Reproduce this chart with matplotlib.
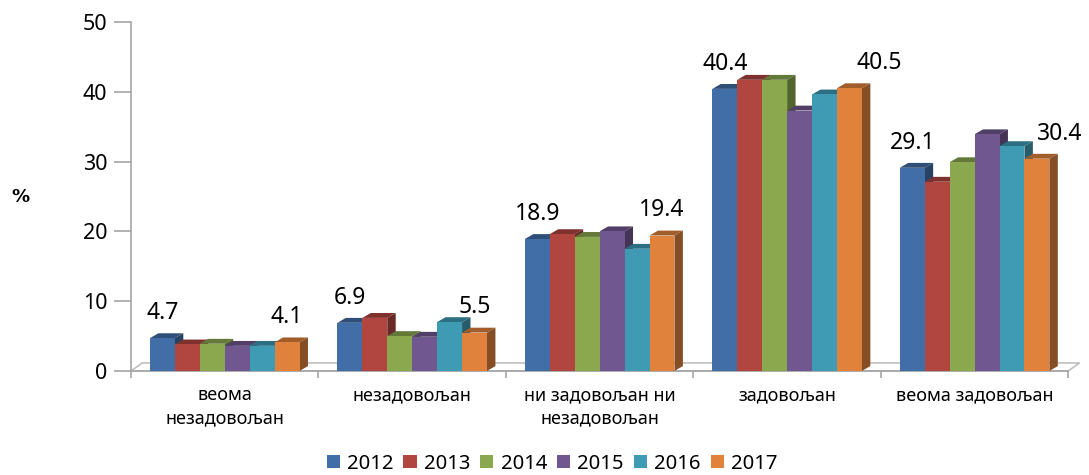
import matplotlib.pyplot as plt
import numpy as np
from matplotlib.patches import Polygon, Patch
from matplotlib.colors import to_rgb

plt.rcParams['font.family'] = ['Noto Sans', 'DejaVu Sans']

categories = ['веома\nнезадовољан', 'незадовољан', 'ни задовољан ни\nнезадовољан',
              'задовољан', 'веома задовољан']
years = ['2012', '2013', '2014', '2015', '2016', '2017']
v2012 = [4.7, 6.9, 18.9, 40.4, 29.1]
v2013 = [3.8, 7.6, 19.6, 41.7, 27.1]
v2014 = [3.9, 5.0, 19.2, 41.7, 29.9]
v2015 = [3.6, 4.9, 20.0, 37.3, 33.9]
v2016 = [3.6, 7.0, 17.5, 39.6, 32.2]
v2017 = [4.1, 5.5, 19.4, 40.5, 30.4]
series = [v2012, v2013, v2014, v2015, v2016, v2017]
colors = ['#426EA7', '#B1453F', '#8BA84F', '#71578F', '#3F9AB4', '#E0823C']

bar_w = 0.133
dx, dy = 0.045, 0.7          # depth of the pseudo-3D bars
floor_dx, floor_dy = 0.06, 1.15


def shade(c, f):
    r, g, b = to_rgb(c)
    return (r * f, g * f, b * f)


fig = plt.figure(figsize=(10.89, 4.75), dpi=100)
ax = fig.add_axes([0.1203, 0.219, 0.981 - 0.1203, 0.954 - 0.219])
ax.set_xlim(-0.5, 4.5)
ax.set_ylim(0, 50)

# floor
floor = Polygon([(-0.5, 0), (4.5, 0), (4.5 + floor_dx, floor_dy), (-0.5 + floor_dx, floor_dy)],
                closed=True, facecolor='white', edgecolor='#BFBFBF', lw=1.2,
                clip_on=False, zorder=1)
ax.add_patch(floor)

x = np.arange(len(categories))
n = len(series)
for j, (vals, col) in enumerate(zip(series, colors)):
    xs = x + (j - (n - 1) / 2) * bar_w
    z = 3 + j
    ax.bar(xs, vals, width=bar_w, color=col, edgecolor='none', zorder=z + 0.5)
    for xc, v in zip(xs, vals):
        x0, x1 = xc - bar_w / 2, xc + bar_w / 2
        top = Polygon([(x0, v), (x1, v), (x1 + dx, v + dy), (x0 + dx, v + dy)],
                      closed=True, facecolor=shade(col, 0.72), edgecolor='none',
                      zorder=z, clip_on=False)
        side = Polygon([(x1, 0), (x1 + dx, dy), (x1 + dx, v + dy), (x1, v)],
                       closed=True, facecolor=shade(col, 0.6), edgecolor='none',
                       zorder=z, clip_on=False)
        ax.add_patch(top)
        ax.add_patch(side)

# data labels only on first and last year
label_shift = {(5, 3): 0.16, (5, 4): 0.12}
for j in (0, n - 1):
    xs = x + (j - (n - 1) / 2) * bar_w
    for i, (xc, v) in enumerate(zip(xs, series[j])):
        ax.text(xc + label_shift.get((j, i), 0), v + 3.6, f'{v:.1f}',
                ha='center', va='center', fontsize=16.5, color='black', zorder=20)

# axes styling
for s in ['top', 'right', 'bottom']:
    ax.spines[s].set_visible(False)
ax.spines['left'].set_color('#A6A6A6')
ax.spines['left'].set_linewidth(1.2)
ax.axhline(0, color='#A6A6A6', lw=1.2, zorder=2, clip_on=False)

ax.set_yticks([0, 10, 20, 30, 40, 50])
ax.tick_params(axis='y', length=12, width=1.2, color='#A6A6A6', labelsize=15.5, pad=5)
ax.set_xticks(x)
ax.set_xticklabels(categories, fontsize=13, linespacing=1.35)
ax.tick_params(axis='x', length=0, pad=11)
ax.set_xticks(np.arange(-0.5, 5.0, 1.0), minor=True)
ax.tick_params(axis='x', which='minor', length=5, width=1.2, color='#A6A6A6')

fig.text(0.019, 0.585, '%', fontsize=13, fontweight='bold', family='DejaVu Sans',
         ha='center', va='center')

handles = [Patch(facecolor=c, edgecolor='none') for c in colors]
fig.legend(handles, years, loc='center', bbox_to_anchor=(0.507, 0.024), ncol=6,
           frameon=False, fontsize=14.6, handlelength=0.65, handleheight=0.65,
           handletextpad=0.35, columnspacing=0.5)

fig.savefig('out.png', dpi=100)
